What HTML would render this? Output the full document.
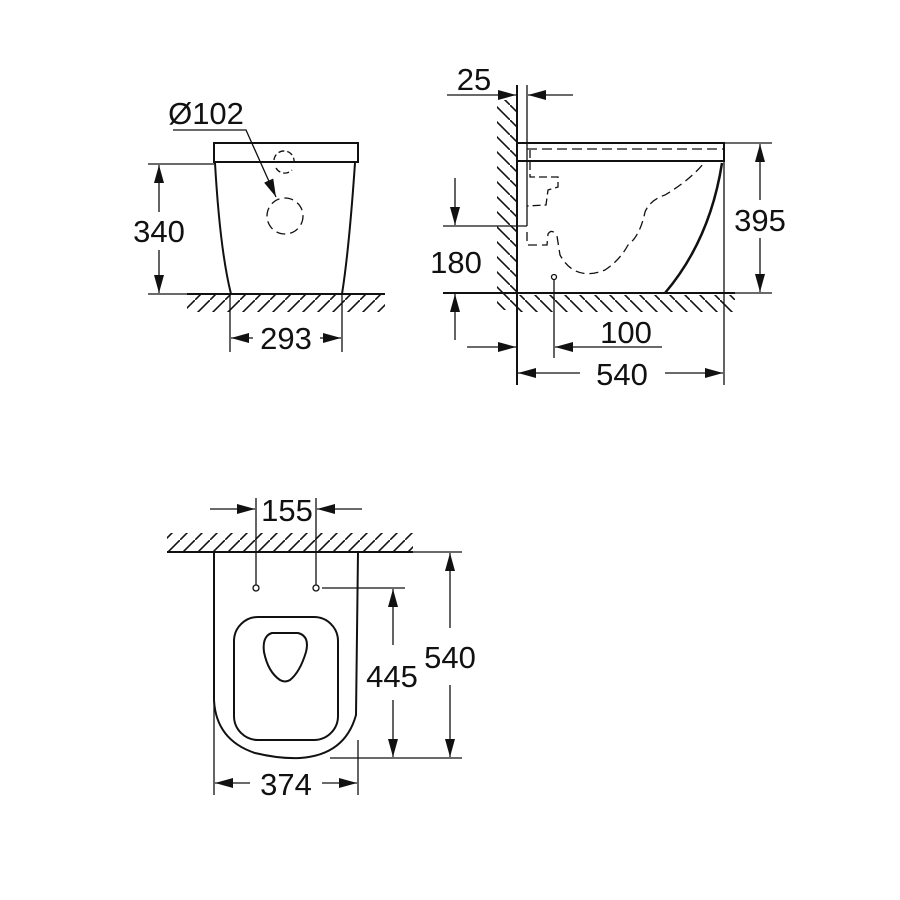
<!DOCTYPE html>
<html><head><meta charset="utf-8"><style>
html,body{margin:0;padding:0;background:#fff}
svg{display:block}
text{font-family:"Liberation Sans",sans-serif;font-size:31px;fill:#111}
</style></head><body>
<svg width="900" height="900" viewBox="0 0 900 900" xmlns="http://www.w3.org/2000/svg">
<defs>
<marker id="a" markerWidth="18" markerHeight="10" refX="18" refY="5" orient="auto" markerUnits="userSpaceOnUse"><path d="M0,0 L18,5 L0,10 Z" fill="#111"/></marker>
<pattern id="h" width="15" height="15" patternUnits="userSpaceOnUse"><path d="M-3,18 L18,-3" stroke="#111" stroke-width="1.6"/></pattern>
<pattern id="h2" width="15" height="15" patternUnits="userSpaceOnUse"><path d="M-3,-3 L18,18" stroke="#111" stroke-width="1.6"/></pattern>
</defs>
<g stroke="#111" fill="none" stroke-width="1.3">
<!-- FRONT VIEW -->
<rect x="187" y="295" width="198" height="17" fill="url(#h)" stroke="none"/>
<line x1="187" y1="294" x2="385" y2="294" stroke-width="2"/>
<rect x="214" y="143" width="144" height="19" stroke-width="2"/>
<path d="M215,163 Q220,250 231,294" stroke-width="2"/>
<path d="M355,163 Q349,250 342,294" stroke-width="2"/>
<path d="M274,160 A10,10 0 0 1 294,162" stroke-dasharray="6,3"/>
<path d="M276,168 A10,10 0 0 0 292,170" stroke-dasharray="6,3"/>
<circle cx="285" cy="216" r="18" stroke-dasharray="9,5"/>
<polyline points="173,130 246,130 276,197" marker-end="url(#a)"/>
<line x1="148" y1="164" x2="214" y2="164"/>
<line x1="148" y1="294" x2="187" y2="294"/>
<line x1="159" y1="212" x2="159" y2="165" marker-end="url(#a)"/>
<line x1="159" y1="250" x2="159" y2="293" marker-end="url(#a)"/>
<line x1="230" y1="294" x2="230" y2="352"/>
<line x1="342" y1="294" x2="342" y2="352"/>
<line x1="253" y1="338" x2="231" y2="338" marker-end="url(#a)"/>
<line x1="320" y1="338" x2="341" y2="338" marker-end="url(#a)"/>

<!-- SIDE VIEW -->
<rect x="497" y="100" width="19" height="210" fill="url(#h2)" stroke="none"/>
<rect x="517" y="295" width="218" height="17" fill="url(#h2)" stroke="none"/>
<line x1="517" y1="85" x2="517" y2="385" stroke-width="2"/>
<line x1="527" y1="85" x2="527" y2="226"/>
<line x1="443" y1="226" x2="527" y2="226"/>
<line x1="447" y1="95" x2="516" y2="95" marker-end="url(#a)"/>
<line x1="573" y1="95" x2="528" y2="95" marker-end="url(#a)"/>
<rect x="517" y="143" width="207" height="18" stroke-width="2"/>
<line x1="527" y1="149" x2="723" y2="149" stroke-dasharray="10,5"/>
<path d="M722,163 Q710,240 665,293" stroke-width="2.5"/>
<line x1="724" y1="161" x2="724" y2="385"/>
<line x1="443" y1="293" x2="735" y2="293" stroke-width="2"/>
<path d="M530,150 L530,177 L558,177 L558,187 L548,190 L546,205 L527,206" stroke-dasharray="8,4"/>
<path d="M527,232 L527,245 L547,245 L548,234 Q552,228 557,236 L560,255 Q575,282 605,270 Q620,260 628,245 Q640,236 645,212 Q650,200 665,195 Q690,180 704,163" stroke-dasharray="9,5"/>
<circle cx="554" cy="277" r="2.5"/>
<line x1="554" y1="280" x2="554" y2="358"/>
<line x1="724" y1="143" x2="772" y2="143"/>
<line x1="735" y1="293" x2="772" y2="293"/>
<line x1="760" y1="200" x2="760" y2="144" marker-end="url(#a)"/>
<line x1="760" y1="238" x2="760" y2="292" marker-end="url(#a)"/>
<line x1="455" y1="178" x2="455" y2="225" marker-end="url(#a)"/>
<line x1="455" y1="340" x2="455" y2="294" marker-end="url(#a)"/>
<line x1="467" y1="347" x2="516" y2="347" marker-end="url(#a)"/>
<line x1="662" y1="347" x2="555" y2="347" marker-end="url(#a)"/>
<line x1="580" y1="373" x2="518" y2="373" marker-end="url(#a)"/>
<line x1="665" y1="373" x2="723" y2="373" marker-end="url(#a)"/>

<!-- TOP VIEW -->
<rect x="167" y="533" width="246" height="18" fill="url(#h)" stroke="none"/>
<line x1="167" y1="552" x2="413" y2="552" stroke-width="2"/>
<path d="M214,552 L214,700 Q216,740 255,753 Q280,759 300,758 Q345,755 356,715 L358,552" stroke-width="2"/>
<rect x="234" y="617" width="104" height="123" rx="24" stroke-width="2"/>
<path d="M272,633 L298,633 Q310,636 306,652 Q300,672 290,680 Q285,683 280,680 Q268,672 264,652 Q262,636 272,633 Z" stroke-width="2"/>
<circle cx="256" cy="588" r="3"/>
<circle cx="316" cy="588" r="3"/>
<line x1="256" y1="498" x2="256" y2="585"/>
<line x1="316" y1="498" x2="316" y2="585"/>
<line x1="210" y1="509" x2="255" y2="509" marker-end="url(#a)"/>
<line x1="362" y1="509" x2="317" y2="509" marker-end="url(#a)"/>
<line x1="322" y1="588" x2="405" y2="588"/>
<line x1="330" y1="758" x2="462" y2="758"/>
<line x1="358" y1="552" x2="462" y2="552"/>
<line x1="393" y1="645" x2="393" y2="589" marker-end="url(#a)"/>
<line x1="393" y1="700" x2="393" y2="757" marker-end="url(#a)"/>
<line x1="450" y1="628" x2="450" y2="553" marker-end="url(#a)"/>
<line x1="450" y1="685" x2="450" y2="757" marker-end="url(#a)"/>
<line x1="214" y1="700" x2="214" y2="795"/>
<line x1="358" y1="740" x2="358" y2="795"/>
<line x1="250" y1="783" x2="215" y2="783" marker-end="url(#a)"/>
<line x1="322" y1="783" x2="357" y2="783" marker-end="url(#a)"/>
</g>
<g>
<text x="206" y="124" text-anchor="middle">Ø102</text>
<text x="159" y="242" text-anchor="middle">340</text>
<text x="286" y="349" text-anchor="middle">293</text>
<text x="474" y="90" text-anchor="middle">25</text>
<text x="760" y="231" text-anchor="middle">395</text>
<text x="456" y="273" text-anchor="middle">180</text>
<text x="626" y="343" text-anchor="middle">100</text>
<text x="622" y="385" text-anchor="middle">540</text>
<text x="287" y="521" text-anchor="middle">155</text>
<text x="392" y="687" text-anchor="middle">445</text>
<text x="450" y="668" text-anchor="middle">540</text>
<text x="286" y="795" text-anchor="middle">374</text>
</g>
</svg>
</body></html>
